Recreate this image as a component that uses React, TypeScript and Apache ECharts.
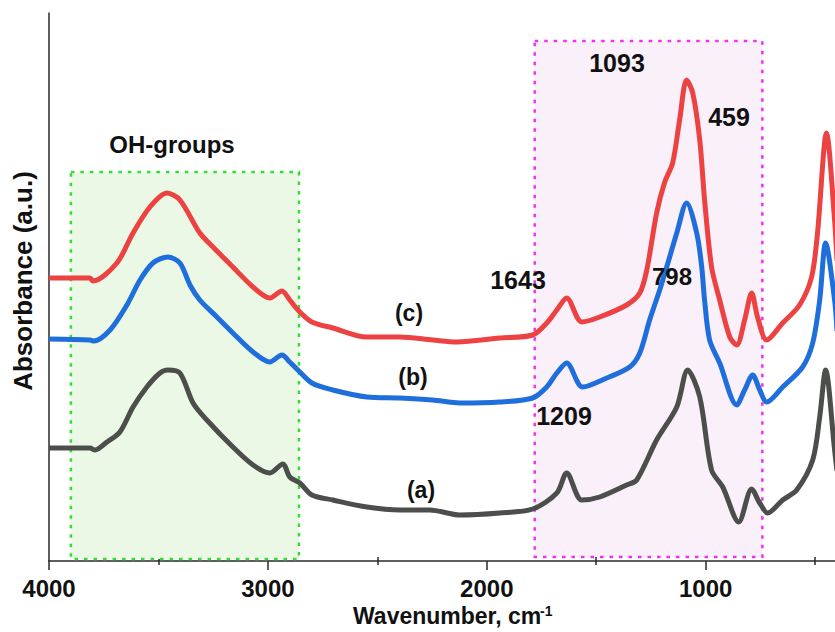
import React, { useEffect, useRef } from "react";
import * as echarts from "echarts";

// Wavenumbers (cm-1) and absorbance (a.u.)
const waveA = [4000,3813,3790,3735,3676,3616,3553,3493,3457,3402,3342,3279,3160,3068,2991,2932,2900,2854,2799,2703,2548,2397,2260,2123,1941,1790,1680,1635,1566,1484,1361,1315,1224,1132,1082,1027,973,922,849,790,753,717,648,584,511,479,452,411,400];
const absA = [1.13,1.13,1.11,1.19,1.29,1.54,1.74,1.88,1.91,1.88,1.58,1.41,1.14,0.96,0.88,0.97,0.84,0.78,0.66,0.61,0.54,0.51,0.51,0.46,0.48,0.52,0.68,0.88,0.61,0.64,0.76,0.81,1.21,1.54,1.91,1.64,0.91,0.74,0.39,0.72,0.58,0.48,0.61,0.71,1.01,1.44,1.91,1.11,0.9];

const waveB = [4000,3813,3795,3721,3644,3584,3525,3457,3402,3356,3311,3233,3160,3068,2991,2936,2900,2863,2799,2703,2548,2397,2247,2123,1941,1790,1726,1680,1635,1562,1452,1347,1301,1256,1210,1178,1132,1087,1041,1018,1005,982,936,858,822,785,753,721,648,557,511,479,452,411,400];
const absB = [2.22,2.21,2.20,2.31,2.56,2.81,2.98,3.04,2.98,2.76,2.61,2.44,2.28,2.09,1.99,2.06,1.99,1.91,1.78,1.71,1.64,1.63,1.61,1.58,1.59,1.63,1.74,1.88,1.98,1.74,1.83,1.94,2.08,2.41,2.71,2.94,3.28,3.58,3.28,2.94,2.61,2.21,1.98,1.56,1.71,1.86,1.71,1.59,1.74,1.94,2.18,2.61,3.18,2.61,2.3];

const waveC = [4000,3813,3799,3690,3616,3539,3461,3402,3311,3251,3160,3068,2991,2936,2900,2863,2799,2703,2548,2397,2247,2137,1941,1790,1726,1680,1635,1566,1484,1361,1301,1269,1224,1187,1151,1119,1087,1059,1027,1005,973,936,890,858,822,790,763,721,648,571,516,489,448,411,400];
const absC = [2.83,2.83,2.80,2.98,3.28,3.54,3.68,3.61,3.28,3.14,2.94,2.74,2.63,2.70,2.61,2.51,2.39,2.33,2.24,2.24,2.21,2.19,2.23,2.26,2.38,2.51,2.63,2.39,2.44,2.56,2.68,2.91,3.48,3.79,3.98,4.41,4.81,4.68,4.21,3.61,2.94,2.61,2.24,2.16,2.41,2.68,2.44,2.21,2.38,2.56,2.84,3.28,4.28,3.41,3.0];

const majorTicks = [4000, 3000, 2000, 1000];
const minorTicks = [3500, 2500, 1500, 500];

// highlighted regions: [wavenumber from, wavenumber to, absorbance top, absorbance bottom]
const ohRegion = [3900, 2858, 3.89, 0.02];
const siRegion = [1781, 741, 5.2, 0.04];

const FONT = "'Liberation Sans', Arial, Helvetica, sans-serif";

const zip = (xs: number[], ys: number[]) => xs.map((x, i) => [x, ys[i]]);

export default function App() {
  const ref = useRef<HTMLDivElement>(null);
  useEffect(() => {
    if (!ref.current) return;
    const chart = echarts.init(ref.current, null, { renderer: "svg" });
    const axisColor = "#2a2a2a";
    const lineBase = {
      type: "line",
      showSymbol: false,
      symbol: "none",
      smooth: 0.3,
      xAxisIndex: 0,
      yAxisIndex: 0,
      z: 3,
    };
    const hiddenAxis = (pos: "inside" | "outside") => ({
      type: "value",
      inverse: true,
      min: 400,
      max: 4000,
      gridIndex: 0,
      position: "bottom",
      axisLine: { show: false },
      splitLine: { show: false },
      axisLabel: { show: false },
      axisTick: {
        show: true,
        inside: pos === "inside",
        length: 4,
        customValues: minorTicks,
        lineStyle: { color: axisColor, width: 1.5 },
      },
    });
    chart.setOption({
      animation: false,
      backgroundColor: "#ffffff",
      grid: { left: 49, top: 13, width: 788, height: 548, containLabel: false, outerBoundsMode: "none" },
      xAxis: [
        {
          type: "value",
          inverse: true,
          min: 400,
          max: 4000,
          position: "bottom",
          axisLine: { show: true, onZero: false, lineStyle: { color: axisColor, width: 1.5 } },
          axisTick: {
            show: true,
            inside: false,
            length: 9,
            customValues: majorTicks,
            lineStyle: { color: axisColor, width: 1.5 },
          },
          axisLabel: {
            show: true,
            customValues: majorTicks,
            formatter: (v: number) => String(Math.round(v)),
            margin: 15,
            fontSize: 24,
            fontWeight: "bold",
            fontFamily: FONT,
            color: "#111",
          },
          splitLine: { show: false },
        },
        hiddenAxis("inside"),
        hiddenAxis("outside"),
      ],
      yAxis: {
        type: "value",
        min: 0,
        max: 5.48,
        axisLine: { show: true, onZero: false, lineStyle: { color: axisColor, width: 1.5 } },
        axisTick: { show: false },
        axisLabel: { show: false },
        splitLine: { show: false },
      },
      series: [
        {
          ...lineBase,
          name: "(a)",
          data: zip(waveA, absA),
          lineStyle: { color: "#4b4e4b", width: 5 },
          markArea: {
            silent: true,
            z: 1,
            data: [
              [
                {
                  xAxis: ohRegion[0],
                  yAxis: ohRegion[2],
                  itemStyle: {
                    color: "#ebf8e6",
                    borderColor: "#33dd33",
                    borderWidth: 2.5,
                    borderType: [3.5, 6],
                  },
                },
                { xAxis: ohRegion[1], yAxis: ohRegion[3] },
              ],
              [
                {
                  xAxis: siRegion[0],
                  yAxis: siRegion[2],
                  itemStyle: {
                    color: "#f9f0f9",
                    borderColor: "#ee33ee",
                    borderWidth: 2.5,
                    borderType: [3.5, 6],
                  },
                },
                { xAxis: siRegion[1], yAxis: siRegion[3] },
              ],
            ],
          },
        },
        {
          ...lineBase,
          name: "(b)",
          data: zip(waveB, absB),
          lineStyle: { color: "#1e6edc", width: 5 },
        },
        {
          ...lineBase,
          name: "(c)",
          data: zip(waveC, absC),
          lineStyle: { color: "#ec4242", width: 5 },
        },
      ],
      graphic: [
        {
          type: "text",
          x: 23,
          y: 281,
          rotation: Math.PI / 2,
          style: {
            text: "Absorbance (a.u.)",
            fontSize: 26,
            fontWeight: "bold",
            fontFamily: FONT,
            fill: "#111",
            align: "center",
            verticalAlign: "middle",
          },
        },
        {
          type: "text",
          x: 353,
          y: 616,
          style: {
            text: "Wavenumber, cm",
            fontSize: 23,
            fontWeight: "bold",
            fontFamily: FONT,
            fill: "#111",
            align: "left",
            verticalAlign: "middle",
          },
        },
        {
          type: "text",
          x: 540,
          y: 611,
          style: {
            text: "-1",
            fontSize: 14,
            fontWeight: "bold",
            fontFamily: FONT,
            fill: "#111",
            align: "left",
            verticalAlign: "middle",
          },
        },
        ...[
          ["OH-groups", 172, 144, 24],
          ["1093", 617, 63, 25],
          ["459", 729, 117, 25],
          ["798", 672, 276, 24],
          ["1643", 518, 280, 25],
          ["1209", 564, 416, 25],
          ["(c)", 409, 313, 23],
          ["(b)", 413, 377, 23],
          ["(a)", 421, 490, 23],
        ].map(([t, x, y, fs]) => ({
          type: "text",
          x: x as number,
          y: y as number,
          z: 10,
          style: {
            text: t as string,
            fontSize: fs as number,
            fontWeight: "bold",
            fontFamily: FONT,
            fill: "#111",
            align: "center",
            verticalAlign: "middle",
          },
        })),
      ],
    });
    return () => chart.dispose();
  }, []);
  return (
    <div
      ref={ref}
      style={{ position: "fixed", left: 0, top: 0, width: 835, height: 632, background: "#fff" }}
    />
  );
}
